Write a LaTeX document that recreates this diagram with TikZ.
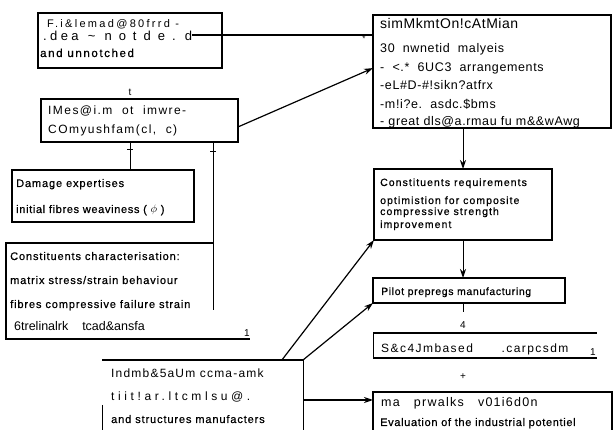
\documentclass[tikz,border=0pt]{standalone}
\usepackage{fontspec}
\setmainfont{Liberation Sans}
\newfontfamily\scanfont[FakeBold=0.6,LetterSpace=8]{Liberation Sans}
\usetikzlibrary{arrows.meta,calc}
\newcommand{\ls}[1]{\addfontfeature{LetterSpace=#1}}
\begin{document}
\begin{tikzpicture}[x=1pt,y=-1pt,
  box/.style={inner sep=0pt, outer sep=0pt, anchor=north west},
  txt/.style={anchor=base west, inner sep=0pt, font=\fontsize{12.5}{14}\selectfont\ls{5}},
  scan/.style={anchor=base west, inner sep=0pt, font=\scanfont\fontsize{11}{13}\selectfont},
  lbl/.style={inner sep=0pt, font=\fontsize{10}{12}\selectfont},
  conn/.style={line width=1pt},
  arr/.style={line width=1.2pt, -{Stealth[length=9pt,width=6pt]}},
]
\useasboundingbox (0,0) rectangle (614,430);
\fill[white] (0,0) rectangle (614,430);

% ---- boxes
\node[box, draw, line width=1.6pt, minimum width=184pt, minimum height=55pt] (A) at (38,13) {};
\node[box, draw, line width=2pt, minimum width=238pt, minimum height=113pt] (B) at (373,15) {};
\node[box, draw, line width=2pt, minimum width=197pt, minimum height=43pt] (C) at (41,99) {};
\node[box, draw, line width=1.3pt, minimum width=182pt, minimum height=52pt] (D) at (12,170) {};
\node[box, minimum width=207pt, minimum height=96pt] (E) at (6,243) {};
\node[box, draw, line width=1.4pt, minimum width=178pt, minimum height=71pt] (F) at (374,169) {};
\node[box, draw, line width=1.3pt, minimum width=192pt, minimum height=25pt] (G) at (373,278) {};
\node[box, minimum width=224pt, minimum height=25pt] (H) at (373,333) {};
\node[box, minimum width=239pt, minimum height=45pt] (I) at (373,392) {};
\node[box, minimum width=201pt, minimum height=75pt] (J) at (102,360) {};

% partial outlines
\draw[line width=1.1pt] (E.north east) -- (E.north west) -- (E.south west) -- ($(E.south east)+(37,0)$);
\draw[line width=1pt] (E.north east) -- ++(0,67);
\draw[line width=2pt] (H.north west) -- (H.north east);
\draw[line width=2pt] (H.south west) -- (H.south east);
\draw[line width=1pt] (H.north west) -- (H.south west);
\draw[line width=1.5pt] (I.south west) -- (I.north west) -- (I.north east) -- (I.south east);
\draw[line width=2.2pt] (J.north west) -- (J.north east);
\draw[line width=1pt] (J.north east) -- (J.south east);
\draw[line width=1pt] ($(J.north west)+(0,45)$) -- (J.south west);

% ---- texts
\node[txt, font=\fontsize{11}{13}\selectfont\ls{21}] (a1) at (47,28) {F.i\&lemad@80frrd -};
\node[txt, font=\fontsize{13}{15}\selectfont\ls{26}] (a2) at (43,41) {.dea \,\textasciitilde\, n o t d e . d};
\node[scan, font=\scanfont\fontsize{11.5}{13}\selectfont\ls{14}] (a3) at (40,57) {and unnotched};

\node[txt, font=\fontsize{14}{16}\selectfont\ls{4}] (b1) at (380,29) {simMkmtOn!cAtMian};
\node[txt] (b2) at (380,53) {30\ \ nwnetid\ \ malyeis};
\node[txt] (b3) at (380,72) {-\ \ <.*\ \ 6UC3\ \ arrangements};
\node[txt] (b4) at (380,90) {-eL\#D-\#!sikn?atfrx};
\node[txt] (b5) at (380,109) {-m!i?e.\ \ asdc.\$bms};
\node[txt] (b6) at (380,126) {- great dls@a.rmau fu m\&\&wAwg};

\node[txt, font=\fontsize{12}{14}\selectfont\ls{12}] (c1) at (48,115) {IMes@i.m\ \ ot\ \ imwre-};
\node[txt, font=\fontsize{12}{14}\selectfont\ls{12}] (c2) at (48,134) {COmyushfam(cl,\ \ c)};

\node[scan, font=\scanfont\fontsize{11}{13}\selectfont\ls{8}] (d1) at (16,187) {Damage expertises};
\node[scan, font=\scanfont\fontsize{11}{13}\selectfont\ls{6}] (d2) at (16,213) {initial fibres weaviness ( $\phi$ )};

\node[scan] (e1) at (10,260) {Constituents characterisation:};
\node[scan] (e2) at (10,284) {matrix stress/strain behaviour};
\node[scan] (e3) at (10,308) {fibres compressive failure strain};
\node[txt, font=\fontsize{12.5}{14}\selectfont] (e4) at (14,331) {6trelinalrk\ \ \ \ tcad\&ansfa};

\node[scan, font=\scanfont\fontsize{10.5}{12}\selectfont\ls{10}] (f1) at (380,186) {Constituents requirements};
\node[scan, font=\scanfont\fontsize{10.5}{12}\selectfont\ls{10}] (f2) at (380,204) {optimistion for composite};
\node[scan, font=\scanfont\fontsize{10.5}{12}\selectfont\ls{10}] (f3) at (380,215) {compressive strength};
\node[scan, font=\scanfont\fontsize{10.5}{12}\selectfont\ls{10}] (f4) at (380,228) {improvement};

\node[scan, font=\scanfont\fontsize{10.5}{12}\selectfont\ls{6}] (g1) at (381,295) {Pilot prepregs manufacturing};

\node[txt, font=\fontsize{12}{14}\selectfont\ls{12}] (h1) at (381,353) {S\&c4Jmbased\ \ \ \ \ \ .carpcsdm};

\node[txt, font=\fontsize{12.5}{14}\selectfont\ls{10}] (i1) at (381,407) {ma\ \ \ prwalks\ \ \ v01i6d0n};
\node[scan, font=\scanfont\fontsize{11}{13}\selectfont\ls{6}] (i2) at (380,426) {Evaluation of the industrial potentiel};

\node[txt, font=\fontsize{12}{14}\selectfont\ls{10}] (j1) at (111,378) {Indmb\&5aUm ccma-amk};
\node[txt, font=\fontsize{12}{14}\selectfont\ls{30}] (j2) at (111,401) {tiit!ar.ltcmlsu@.};
\node[scan] (j3) at (111,423) {and structures manufacters};

% ---- small labels
\node[lbl] (t) at (130,92) {t};
\node[lbl, font=\fontsize{8}{9}\selectfont] (star) at (364,39) {*};
\node[lbl] (four) at (463,325) {4};
\node[lbl] (plus) at (463,377) {+};
\node[lbl] (oneE) at (247,333) {1};
\node[lbl] (oneH) at (593,352) {1};

% ---- connectors
\coordinate (aT) at ($(a2.base east)+(0,-6)$);
\draw[conn, line width=1.4pt] (aT) -- (aT -| B.west);
\draw[arr] ($(C.north east)!0.65!(C.south east)$) -- ($(B.north west)!0.47!(B.south west)$);
\coordinate (dT) at ($(D.north west)!0.65!(D.north east)$);
\draw[conn] (dT |- C.south) -- (dT);
\draw[conn] ($(dT |- C.south)+(-3,8)$) -- ++(6,0);
\draw[conn] (E.north east |- C.south) -- (E.north east);
\draw[conn] ($(E.north east |- C.south)+(-3,10)$) -- ++(6,0);
\draw[arr, line width=1pt] (F.north |- B.south) -- (F.north);
\draw[arr, line width=1pt] (F.south) -- (F.south |- G.north);
\draw[conn] (F.south |- G.south) -- ++(0,9);
\draw[arr] ($(J.north west)!0.895!(J.north east)$) -- (F.south west);
\draw[arr] (J.north east) -- (G.south west);
\coordinate (jR) at ($(J.north east)+(0,40)$);
\draw[arr] (jR) -- (jR -| I.west);
\end{tikzpicture}
\end{document}
